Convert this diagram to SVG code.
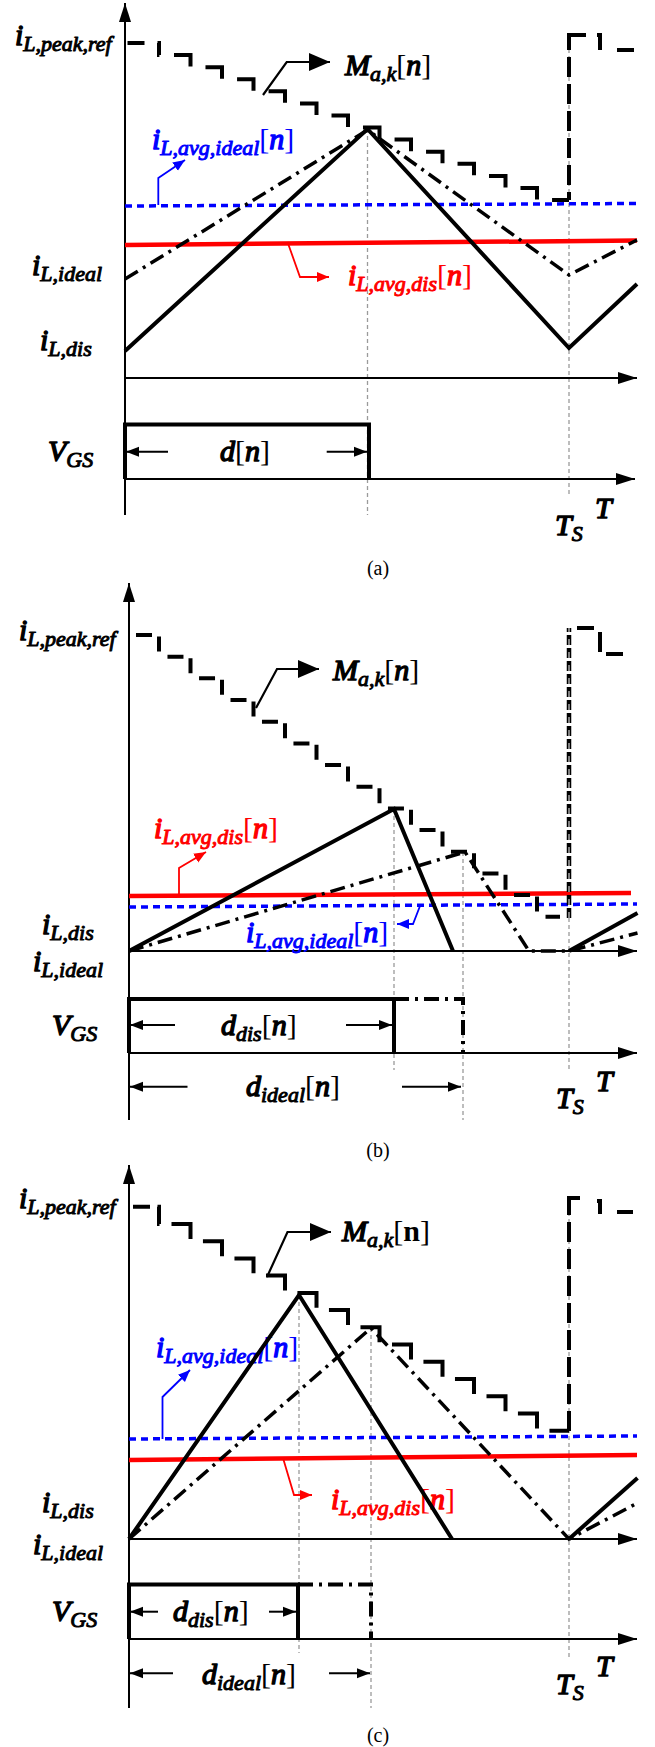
<svg xmlns="http://www.w3.org/2000/svg" width="655" height="1747" viewBox="0 0 655 1747">
<style>
.axis{fill:none;stroke:#000;stroke-width:2}
.grid{fill:none;stroke:#9a9a9a;stroke-width:1.3;stroke-dasharray:4 3}
.stair{fill:none;stroke:#000;stroke-width:4}
.solid{fill:none;stroke:#000;stroke-width:4;stroke-linejoin:miter}
.dd{fill:none;stroke:#000;stroke-width:3.5;stroke-dasharray:15 6 3 6}
.blue{fill:none;stroke:#0000ff;stroke-width:3.5;stroke-dasharray:7 5}
.red{fill:none;stroke:#ff0000;stroke-width:4.5}
.pulse{fill:none;stroke:#000;stroke-width:4}
.pulsedd{fill:none;stroke:#000;stroke-width:4;stroke-dasharray:15 6 3 6}
.dim{fill:none;stroke:#000;stroke-width:2}
.call{fill:none;stroke:#000;stroke-width:2.2}
.callb{fill:none;stroke:#0000ff;stroke-width:1.8}
.callr{fill:none;stroke:#ff0000;stroke-width:1.8}
.lbl{font-family:"Liberation Serif",serif;font-weight:normal;font-style:italic;font-size:30px;fill:#000;stroke:#000;stroke-width:1.4;stroke-linejoin:round}
.sub{font-size:22px;stroke-width:1}
.br{font-style:normal;font-weight:normal;stroke:none}
.up{font-style:normal;font-weight:bold;stroke:none}
.lb{fill:#0000ff;stroke:#0000ff}
.lr{fill:#ff0000;stroke:#ff0000}
.cap{font-family:"Liberation Serif",serif;font-size:20px;fill:#000;text-anchor:middle}
</style>
<defs>
<marker id="ax" markerUnits="userSpaceOnUse" markerWidth="20" markerHeight="14" refX="19" refY="7" orient="auto"><path d="M0,1 L19,7 L0,13 Z" fill="#000"/></marker>
<marker id="sa" markerUnits="userSpaceOnUse" markerWidth="14" markerHeight="12" refX="13" refY="6" orient="auto"><path d="M0,1 L13,6 L0,11 Z" fill="#000"/></marker>
<marker id="ma" markerUnits="userSpaceOnUse" markerWidth="22" markerHeight="18" refX="21" refY="9" orient="auto"><path d="M0,0 L21,9 L0,18 Z" fill="#000"/></marker>
<marker id="ba" markerUnits="userSpaceOnUse" markerWidth="13" markerHeight="12" refX="12" refY="6" orient="auto"><path d="M0,1 L12,6 L0,11 Z" fill="#0000ff"/></marker>
<marker id="ra" markerUnits="userSpaceOnUse" markerWidth="13" markerHeight="12" refX="12" refY="6" orient="auto"><path d="M0,1 L12,6 L0,11 Z" fill="#ff0000"/></marker>
</defs>

<!-- ================= Panel (a) ================= -->
<g id="panel-a">
  <g id="a-grid">
    <path class="grid" d="M367.5,129 V515"/>
    <path class="grid" d="M569,35 V497"/>
  </g>
  <g id="a-axes">
    <path class="axis" d="M125,515 V3" marker-end="url(#ax)"/>
    <path class="axis" d="M125,378 H637" marker-end="url(#ax)"/>
    <path class="axis" d="M125,479 H635" marker-end="url(#ax)"/>
  </g>
  <g id="a-labels">
    <text class="lbl" x="15" y="45">i<tspan class="sub" dy="6">L,peak,ref</tspan></text>
    <text class="lbl" x="345" y="75">M<tspan class="sub" dy="6">a,k</tspan><tspan dy="-6"><tspan class="br">[</tspan>n<tspan class="br">]</tspan></tspan></text>
    <text class="lbl lb" x="152" y="149">i<tspan class="sub" dy="6">L,avg,ideal</tspan><tspan dy="-6"><tspan class="br">[</tspan>n<tspan class="br">]</tspan></tspan></text>
    <text class="lbl lr" x="348" y="285">i<tspan class="sub" dy="6">L,avg,dis</tspan><tspan dy="-6"><tspan class="br">[</tspan>n<tspan class="br">]</tspan></tspan></text>
    <text class="lbl" x="32" y="275">i<tspan class="sub" dy="6">L,ideal</tspan></text>
    <text class="lbl" x="40" y="350">i<tspan class="sub" dy="6">L,dis</tspan></text>
    <text class="lbl" x="48" y="461">V<tspan class="sub" dy="6">GS</tspan></text>
    <text class="lbl" x="220" y="461"><tspan>d</tspan><tspan class="br">[</tspan>n<tspan class="br">]</tspan></text>
    <text class="lbl" x="555" y="535">T<tspan class="sub" dy="6">S</tspan></text>
    <text class="lbl" x="595" y="518">T</text>
    <text class="cap" x="378" y="575">(a)</text>
  </g>
  <g id="a-waves">
    <path class="blue" d="M125,206 L637,203.5"/>
    <path class="red" d="M125,245 L637,240.5"/>
    <path class="dd" d="M125,279 L367.5,130 L569,275 L637,240"/>
    <path class="solid" d="M125,351 L367.5,129 L569,348 L637,284"/>
    <path class="stair" style="stroke-dasharray:17 13 14 14.6 28 15.58 28 15.58 28 15.58 28 15.58 28 15.58 28 15.58 28 15.58 28 15.58 28 15.58 28 15.58 28 15.58 28 15.58 28 15.58 28 15.58" d="M127.5,43 H159 V55.1 H190.5 V67.2 H222 V79.2 H253.5 V91.3 H285 V103.4 H316.5 V115.5 H348 V127.6 H379.5 V139.6 H411 V151.7 H442.5 V163.8 H474 V175.9 H505.5 V188 H537 V200 H569"/>
    <path class="stair" style="stroke-dasharray:32 7 20 7 20 7 20 7 20 7 20 7 20 7 20 7 20 7" d="M586,35 H569 V200"/>
    <path class="stair" d="M597,35 H600 V50"/>
    <path class="stair" d="M617,50 H634"/>
    <path class="pulse" d="M125,479 V424.5 H369 V479"/>
  </g>
  <g id="a-connectors">
    <path class="call" d="M263,95 L286.7,62 H330" marker-end="url(#ma)"/>
    <path class="callb" d="M158.3,205 V178 L185,160" marker-end="url(#ba)"/>
    <path class="callr" d="M287.5,242 L300,277 H329" marker-end="url(#ra)"/>
    <path class="dim" d="M168,451.7 H126" marker-end="url(#sa)"/>
    <path class="dim" d="M326.7,451.7 H367" marker-end="url(#sa)"/>
  </g>
</g>

<!-- ================= Panel (b) ================= -->
<g id="panel-b">
  <g id="b-grid">
    <path class="grid" d="M394,809 V1070"/>
    <path class="grid" d="M463,852 V1120"/>
    <path class="grid" d="M569,918 V1070"/>
  </g>
  <g id="b-axes">
    <path class="axis" d="M129,1120 V583" marker-end="url(#ax)"/>
    <path class="axis" d="M129,951 H637" marker-end="url(#ax)"/>
    <path class="axis" d="M129,1053 H637" marker-end="url(#ax)"/>
  </g>
  <g id="b-labels">
    <text class="lbl" x="19" y="640">i<tspan class="sub" dy="6">L,peak,ref</tspan></text>
    <text class="lbl" x="333" y="680">M<tspan class="sub" dy="6">a,k</tspan><tspan dy="-6"><tspan class="br">[</tspan>n<tspan class="br">]</tspan></tspan></text>
    <text class="lbl lr" x="154" y="838">i<tspan class="sub" dy="6">L,avg,dis</tspan><tspan dy="-6"><tspan class="br">[</tspan>n<tspan class="br">]</tspan></tspan></text>
    <text class="lbl lb" x="246" y="942">i<tspan class="sub" dy="6">L,avg,ideal</tspan><tspan dy="-6"><tspan class="br">[</tspan>n<tspan class="br">]</tspan></tspan></text>
    <text class="lbl" x="42" y="934">i<tspan class="sub" dy="6">L,dis</tspan></text>
    <text class="lbl" x="33" y="971">i<tspan class="sub" dy="6">L,ideal</tspan></text>
    <text class="lbl" x="52" y="1035">V<tspan class="sub" dy="6">GS</tspan></text>
    <text class="lbl" x="221" y="1035">d<tspan class="sub" dy="6">dis</tspan><tspan dy="-6"><tspan class="br">[</tspan>n<tspan class="br">]</tspan></tspan></text>
    <text class="lbl" x="246" y="1096">d<tspan class="sub" dy="6">ideal</tspan><tspan dy="-6"><tspan class="br">[</tspan>n<tspan class="br">]</tspan></tspan></text>
    <text class="lbl" x="556" y="1108">T<tspan class="sub" dy="6">S</tspan></text>
    <text class="lbl" x="596" y="1091">T</text>
    <text class="cap" x="378" y="1157">(b)</text>
  </g>
  <g id="b-waves">
    <path class="red" d="M129,896 L631,893"/>
    <path class="blue" d="M129,907 L637,904"/>
    <path class="dd" d="M129,951 L465,852 L529,951 L569,951 L637.5,933"/>
    <path class="solid" d="M129,951 L394,809 L453,951"/>
    <path class="solid" d="M569,951 L637.5,913"/>
    <path class="stair" style="stroke-dasharray:16 8.5 15 13.67;stroke-dashoffset:46.17" d="M129,635 H159 V656.7 H190.5 V678.3 H222 V700 H253.5 V721.7 H285 V743.4 H316.5 V765 H348 V786.7 H379.5 V808.4 H411 V830 H442.5 V851.7 H474 V873.4 H505.5 V895 H537 V916.7 H560"/>
    <path class="stair" style="stroke-width:4.5;stroke-dasharray:10 3" d="M569,918 V628"/>
    <path d="M569,918 V628" fill="none" stroke="#ffffff" stroke-width="1" stroke-dasharray="6 7"/>
    <path class="stair" d="M577,628 H594"/>
    <path class="stair" d="M600,632 V652"/>
    <path class="stair" d="M606,654 H623"/>
    <path class="pulse" d="M129,1053 V999 H394 V1053"/>
    <path class="pulsedd" d="M394,999 H463 V1053"/>
  </g>
  <g id="b-connectors">
    <path class="call" d="M256,708 L277,669 H319" marker-end="url(#ma)"/>
    <path class="callr" d="M179,895 V868 L206,852" marker-end="url(#ra)"/>
    <path class="callb" d="M420,906 L413,924 H397" marker-end="url(#ba)"/>
    <path class="dim" d="M175,1025 H130" marker-end="url(#sa)"/>
    <path class="dim" d="M346,1025 H392" marker-end="url(#sa)"/>
    <path class="dim" d="M187.5,1086.7 H130" marker-end="url(#sa)"/>
    <path class="dim" d="M402,1086.7 H461" marker-end="url(#sa)"/>
  </g>
</g>

<!-- ================= Panel (c) ================= -->
<g id="panel-c">
  <g id="c-grid">
    <path class="grid" d="M299,1295 V1653"/>
    <path class="grid" d="M371,1328 V1708"/>
    <path class="grid" d="M569,1198 V1660"/>
  </g>
  <g id="c-axes">
    <path class="axis" d="M129,1708 V1165" marker-end="url(#ax)"/>
    <path class="axis" d="M129,1539 H637" marker-end="url(#ax)"/>
    <path class="axis" d="M129,1639 H637" marker-end="url(#ax)"/>
  </g>
  <g id="c-labels">
    <text class="lbl" x="19" y="1208">i<tspan class="sub" dy="6">L,peak,ref</tspan></text>
    <text class="lbl" x="342" y="1241">M<tspan class="sub" dy="6">a,k</tspan><tspan dy="-6" class="up"><tspan class="br">[</tspan>n<tspan class="br">]</tspan></tspan></text>
    <text class="lbl lb" x="156" y="1357">i<tspan class="sub" dy="6">L,avg,ideal</tspan><tspan dy="-6"><tspan class="br">[</tspan>n<tspan class="br">]</tspan></tspan></text>
    <text class="lbl lr" x="331" y="1509">i<tspan class="sub" dy="6">L,avg,dis</tspan><tspan dy="-6"><tspan class="br">[</tspan>n<tspan class="br">]</tspan></tspan></text>
    <text class="lbl" x="42" y="1512">i<tspan class="sub" dy="6">L,dis</tspan></text>
    <text class="lbl" x="33" y="1554">i<tspan class="sub" dy="6">L,ideal</tspan></text>
    <text class="lbl" x="52" y="1621">V<tspan class="sub" dy="6">GS</tspan></text>
    <text class="lbl" x="173" y="1621">d<tspan class="sub" dy="6">dis</tspan><tspan dy="-6"><tspan class="br">[</tspan>n<tspan class="br">]</tspan></tspan></text>
    <text class="lbl" x="202" y="1684">d<tspan class="sub" dy="6">ideal</tspan><tspan dy="-6"><tspan class="br">[</tspan>n<tspan class="br">]</tspan></tspan></text>
    <text class="lbl" x="556" y="1694">T<tspan class="sub" dy="6">S</tspan></text>
    <text class="lbl" x="596" y="1676">T</text>
    <text class="cap" x="378" y="1742">(c)</text>
  </g>
  <g id="c-waves">
    <path class="blue" d="M129,1439 L637,1436"/>
    <path class="red" d="M129,1460 L637,1455"/>
    <path class="dd" d="M129,1539 L371,1328 L569,1539 L637.5,1503"/>
    <path class="solid" d="M129,1539 L299,1295 L452,1539"/>
    <path class="solid" d="M569,1539 L637.5,1478"/>
    <path class="stair" style="stroke-dasharray:0 4 17 7.5 19.2 12 34 14.73 34 14.73 34 14.73 34 14.73 34 14.73 34 14.73 34 14.73 34 14.73 34 14.73 34 14.73 34 14.73 34 14.73 34 14.73" d="M129,1206.7 H159 V1223.9 H190.5 V1241.2 H222 V1258.4 H253.5 V1275.6 H285 V1292.9 H316.5 V1310.1 H348 V1327.3 H379.5 V1344.5 H411 V1361.8 H442.5 V1379 H474 V1396.2 H505.5 V1413.5 H537 V1430.7 H569"/>
    <path class="stair" style="stroke-dasharray:28 7 20 7 20 7 20 7 20 7 20 7 20 7 20 7 20 7 20 7" d="M580,1198 H569 V1431"/>
    <path class="stair" d="M597,1201 H600 V1214"/>
    <path class="stair" d="M617,1212 H633"/>
    <path class="pulse" d="M129,1639 V1584.5 H298 V1639"/>
    <path class="pulsedd" d="M298,1584.5 H371 V1639"/>
  </g>
  <g id="c-connectors">
    <path class="call" d="M267,1277 L287.5,1232 H331" marker-end="url(#ma)"/>
    <path class="callb" d="M162.5,1439 V1397 L190,1370" marker-end="url(#ba)"/>
    <path class="callr" d="M283,1458 L294,1495 H312" marker-end="url(#ra)"/>
    <path class="dim" d="M158,1611.7 H130" marker-end="url(#sa)"/>
    <path class="dim" d="M269,1611.7 H296" marker-end="url(#sa)"/>
    <path class="dim" d="M173,1673.3 H130" marker-end="url(#sa)"/>
    <path class="dim" d="M329,1673.3 H370" marker-end="url(#sa)"/>
  </g>
</g>
</svg>
